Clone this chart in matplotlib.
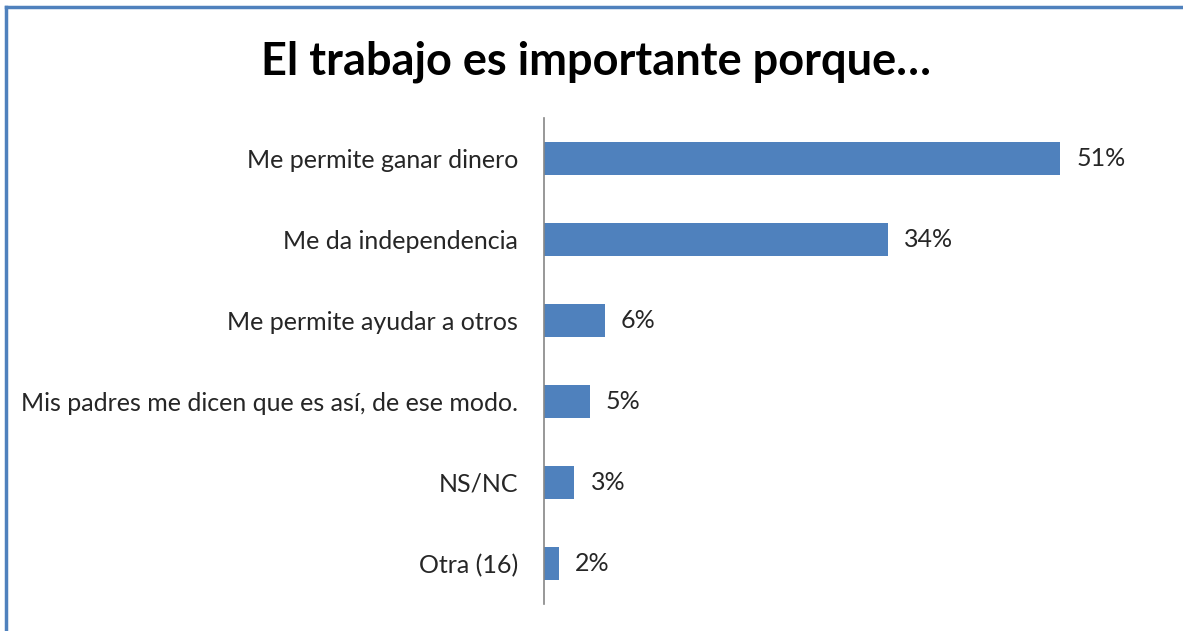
import matplotlib
matplotlib.use("Agg")
import matplotlib.pyplot as plt
from matplotlib.lines import Line2D

plt.rcParams['font.family'] = ['Lato', 'DejaVu Sans']

categorias = ["Me permite ganar dinero",
              "Me da independencia",
              "Me permite ayudar a otros",
              "Mis padres me dicen que es así, de ese modo.",
              "NS/NC",
              "Otra (16)"]
# longitud de las barras (las etiquetas van redondeadas)
porcentajes = [51, 34, 6, 4.5, 3, 1.5]
etiquetas = ["51%", "34%", "6%", "5%", "3%", "2%"]

AZUL = "#4F81BD"

fig = plt.figure(figsize=(11.83, 6.31), dpi=100)
ax = fig.add_axes([544 / 1183, 27 / 631, 607 / 1183, 486 / 631])

y = list(range(len(categorias)))
ax.barh(y, porcentajes, height=0.4, color=AZUL)
ax.set_ylim(len(categorias) - 0.5, -0.5)
ax.set_xlim(0, 60)

for yi, v, lab in zip(y, porcentajes, etiquetas):
    ax.text(v + 1.6, yi, lab, va="center", ha="left", fontsize=18, color="#262626")

ax.set_yticks(y)
ax.set_yticklabels(categorias, fontsize=18, color="#262626")
ax.tick_params(axis="y", length=0, pad=18.5)
ax.set_xticks([])
for s in ["top", "right", "bottom"]:
    ax.spines[s].set_visible(False)
ax.spines["left"].set_color("#868686")
ax.spines["left"].set_linewidth(1.2)

fig.text(596 / 1183, 1 - 62 / 631, "El trabajo es importante porque…",
         ha="center", va="center", fontsize=32.5, fontweight="bold", color="black")

# marco del gráfico
fig.add_artist(Line2D([6 / 1183, 6 / 1183], [0, 1 - 7 / 631], transform=fig.transFigure,
                      color=AZUL, linewidth=2.5))
fig.add_artist(Line2D([6 / 1183, 1], [1 - 7 / 631, 1 - 7 / 631], transform=fig.transFigure,
                      color=AZUL, linewidth=2.5))

fig.savefig("out.png", dpi=100)
